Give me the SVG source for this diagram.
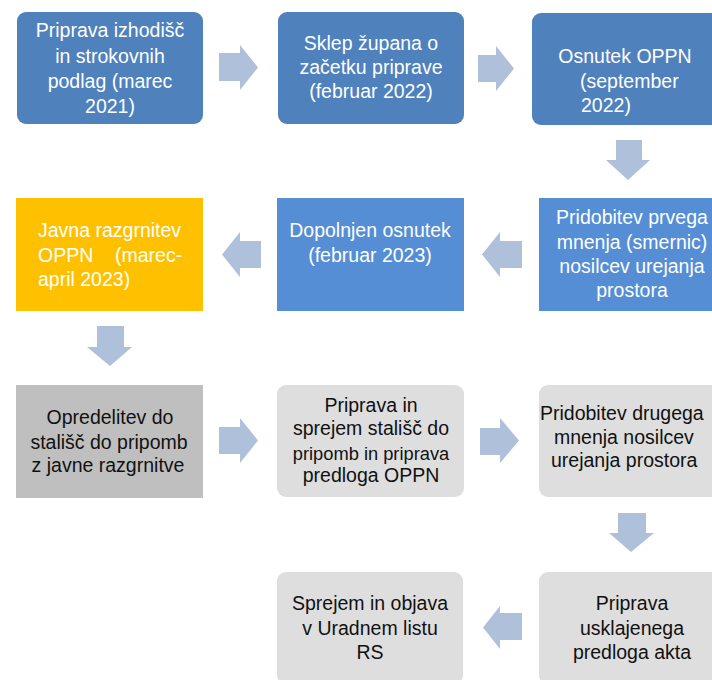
<svg xmlns="http://www.w3.org/2000/svg" width="712" height="680" viewBox="0 0 712 680">
<style>
.t{font-family:"Liberation Sans",Arial,sans-serif;font-size:19.5px;}
.w{fill:#FFFFFF;}
.k{fill:#111111;}
.c{text-anchor:middle;}
.b1{fill:#4F81BD;}
.b2{fill:#558ED5;}
.y{fill:#FFC000;}
.g1{fill:#BFBFBF;}
.g2{fill:#DEDEDE;}
.ar{fill:#AFC0DA;}
</style>
<rect width="712" height="680" fill="#FFFFFF"/>
<g id="connectors">
<polygon class="ar" points="219,53 240,53 240,45 258,67.5 240,90 240,81 219,81"/>
<polygon class="ar" points="478,55 496,55 496,46 514,68.5 496,91 496,82 478,82"/>
<polygon class="ar" points="616,140 642,140 642,160 650,160 628,180 606,160 616,160"/>
<polygon class="ar" points="261,241 240,241 240,232 222,254.5 240,277 240,268 261,268"/>
<polygon class="ar" points="522,241 500,241 500,232 482,254.5 500,277 500,268 522,268"/>
<polygon class="ar" points="97,326 124,326 124,347 132,347 110,366 87,347 97,347"/>
<polygon class="ar" points="219,427 240,427 240,418 258,440.5 240,463 240,454 219,454"/>
<polygon class="ar" points="480,428 500,428 500,418 519,440.5 500,463 500,455 480,455"/>
<polygon class="ar" points="618,513 646,513 646,533 654,533 631,552 609,533 618,533"/>
<polygon class="ar" points="522,613 500,613 500,606 483,627.5 500,649 500,640 522,640"/>
</g>
<g id="n1">
<rect class="b1" x="17" y="12" width="186" height="112" rx="9"/>
<text class="t w c" x="110" y="37">Priprava izhodišč</text>
<text class="t w c" x="110" y="63">in strokovnih</text>
<text class="t w c" x="110" y="88">podlag (marec</text>
<text class="t w c" x="110" y="113">2021)</text>
</g>
<g id="n2">
<rect class="b1" x="278" y="12" width="186" height="112" rx="9"/>
<text class="t w c" x="371" y="50">Sklep župana o</text>
<text class="t w c" x="371" y="74">začetku priprave</text>
<text class="t w c" x="371" y="98">(februar 2022)</text>
</g>
<g id="n3">
<rect class="b1" x="532" y="13" width="190" height="112" rx="9"/>
<text class="t w c" x="625" y="63">Osnutek OPPN</text>
<text class="t w" x="580" y="88">(september</text>
<text class="t w" x="581" y="112">2022)</text>
</g>
<g id="n4">
<rect class="b2" x="539" y="198" width="180" height="113"/>
<text class="t w c" x="632" y="224">Pridobitev prvega</text>
<text class="t w c" x="632" y="249">mnenja (smernic)</text>
<text class="t w c" x="632" y="273">nosilcev urejanja</text>
<text class="t w c" x="632" y="297">prostora</text>
</g>
<g id="n5">
<rect class="b2" x="277" y="198" width="187" height="113"/>
<text class="t w c" x="370" y="237">Dopolnjen osnutek</text>
<text class="t w c" x="370" y="262">(februar 2023)</text>
</g>
<g id="n6">
<rect class="y" x="16" y="198" width="187" height="113"/>
<text class="t w" x="38" y="237">Javna razgrnitev</text>
<text class="t w" x="38" y="262">OPPN</text>
<text class="t w" x="115" y="262">(marec-</text>
<text class="t w" x="38" y="286">april 2023)</text>
</g>
<g id="n7">
<rect class="g1" x="16" y="385" width="187" height="113"/>
<text class="t k c" x="110" y="424">Opredelitev do</text>
<text class="t k c" x="109" y="449">stališč do pripomb</text>
<text class="t k c" x="108" y="472">z javne razgrnitve</text>
</g>
<g id="n8">
<rect class="g2" x="277" y="385" width="187" height="112" rx="9"/>
<text class="t k c" x="371" y="412">Priprava in</text>
<text class="t k c" x="371" y="435">sprejem stališč do</text>
<text class="t k c" x="371" y="460" style="font-size:18.3px">pripomb in priprava</text>
<text class="t k c" x="371" y="482">predloga OPPN</text>
</g>
<g id="n9">
<rect class="g2" x="539" y="385" width="185" height="112" rx="9"/>
<text class="t k" x="540" y="420">Pridobitev drugega</text>
<text class="t k" x="554" y="444">mnenja nosilcev</text>
<text class="t k" x="551" y="467">urejanja prostora</text>
</g>
<g id="n10">
<rect class="g2" x="539" y="572" width="185" height="112" rx="9"/>
<text class="t k c" x="632" y="610">Priprava</text>
<text class="t k c" x="632" y="635">usklajenega</text>
<text class="t k c" x="632" y="659">predloga akta</text>
</g>
<g id="n11">
<rect class="g2" x="277" y="572" width="186" height="112" rx="9"/>
<text class="t k c" x="370" y="610">Sprejem in objava</text>
<text class="t k c" x="370" y="635">v Uradnem listu</text>
<text class="t k c" x="370" y="659">RS</text>
</g>
</svg>
